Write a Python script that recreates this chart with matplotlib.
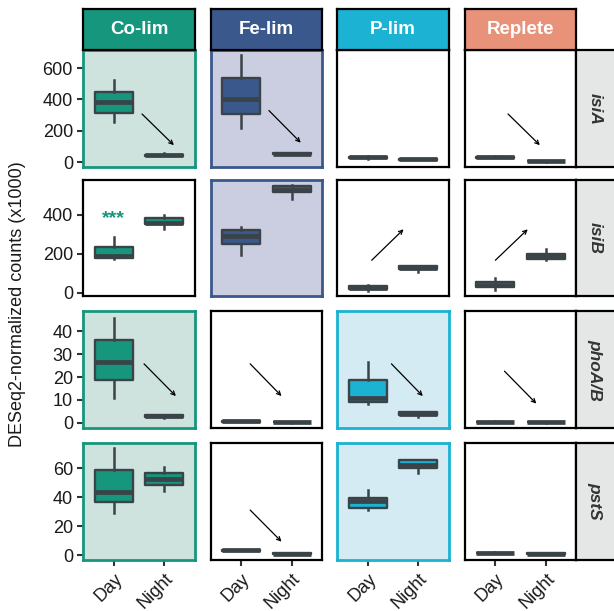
#!/usr/bin/env python3
# -*- coding: utf-8 -*-

import matplotlib
matplotlib.use('Agg')
import matplotlib.pyplot as plt

plt.rcParams['font.family'] = ['Liberation Sans', 'DejaVu Sans']

# Facets
conds = ['Co-lim', 'Fe-lim', 'P-lim', 'Replete']
genes = ['isiA', 'isiB', 'phoA/B', 'pstS']
times = ['Day', 'Night']

cond_colors = ['#16967D', '#3A588C', '#1BB2D3', '#E9927A']
cond_bg = ['#CFE3DE', '#CBCEE1', '#D5EBF3', '#FFFFFF']

# box stats (whislo, q1, med, q3, whishi) for Day, Night in each condition
isiA = [
    [(253, 315, 385, 450, 525), (36, 38, 43, 48, 58)],
    [(217, 307, 404, 537, 683), (50, 51, 54, 57, 58)],
    [(22, 29, 32, 35, 36), (14, 15, 17, 19, 20)],
    [(25, 29, 32, 35, 36), (3, 4, 5, 7, 8)],
]
isiB = [
    [(172, 178, 188, 232, 285), (325, 350, 357, 385, 398)],
    [(195, 248, 292, 320, 335), (482, 514, 525, 548, 550)],
    [(10, 18, 26, 34, 40), (108, 120, 126, 135, 137)],
    [(15, 28, 40, 55, 75), (168, 170, 188, 198, 225)],
]
phoAB = [
    [(11, 18.8, 26.5, 36.3, 46), (2.3, 2.5, 2.8, 3.2, 3.4)],
    [(0.4, 0.5, 0.6, 0.7, 0.8), (0.1, 0.2, 0.3, 0.4, 0.5)],
    [(8.2, 9.2, 11, 18.8, 26.5), (2.6, 3.3, 3.9, 4.5, 4.6)],
    [(0.2, 0.3, 0.4, 0.5, 0.6), (0.1, 0.2, 0.3, 0.4, 0.5)],
]
pstS = [
    [(29.5, 36.9, 43.8, 58.6, 73.8), (44.5, 48.7, 52.8, 57, 60.7)],
    [(3.0, 3.2, 3.5, 3.8, 4.0), (0.8, 1.0, 1.2, 1.4, 1.6)],
    [(31, 32.5, 37.8, 39.7, 45), (56.5, 60.2, 62, 65.7, 66)],
    [(1.4, 1.6, 1.8, 2.0, 2.2), (0.8, 1.0, 1.2, 1.4, 1.6)],
]
box_data = [isiA, isiB, phoAB, pstS]

row_ylim = [(-30, 713), (-20, 578), (-2.2, 48.8), (-2.8, 77.5)]
row_yticks = [[0, 200, 400, 600], [0, 200, 400], [0, 10, 20, 30, 40], [0, 20, 40, 60]]

# panels that are highlighted (gene -> conditions)
highlight = {'isiA': ['Co-lim', 'Fe-lim'], 'isiB': ['Fe-lim'],
             'phoA/B': ['Co-lim', 'P-lim'], 'pstS': ['Co-lim', 'P-lim']}

# trend arrows: gene, cond, x0, y0, x1, y1
arrows = [
    ('isiA', 'Co-lim', 1.56, 307, 2.19, 108),
    ('isiA', 'Fe-lim', 1.55, 329, 2.18, 124),
    ('isiA', 'Replete', 1.25, 307, 1.88, 108),
    ('isiB', 'P-lim', 1.08, 166, 1.71, 325),
    ('isiB', 'Replete', 1.00, 166, 1.64, 325),
    ('phoA/B', 'Co-lim', 1.60, 25.8, 2.23, 11.7),
    ('phoA/B', 'Fe-lim', 1.18, 25.8, 1.80, 11.7),
    ('phoA/B', 'P-lim', 1.47, 25.8, 2.09, 11.7),
    ('phoA/B', 'Replete', 1.18, 22.6, 1.81, 8.4),
    ('pstS', 'Fe-lim', 1.18, 31.3, 1.80, 9.5),
]

# significance marks: gene, cond, x, y, text
stars = [('isiB', 'Co-lim', 1, 380, '***')]

DARK = '#3A4347'
W, H = 614., 611.

fig = plt.figure(figsize=(W / 100, H / 100), dpi=100)


def px_axes(x, y, w, h):
    return fig.add_axes([x / W, 1 - (y + h) / H, w / W, h / H])


col_x = [83.3, 210.7, 337.3, 465]
row_y = [50.3, 180, 311.3, 443]
pw, ph = 111.3, 116.5

for i, gene in enumerate(genes):
    for j, cond in enumerate(conds):
        ax = px_axes(col_x[j], row_y[i], pw, ph)
        hl = cond in highlight[gene]
        ax.set_facecolor(cond_bg[j] if hl else 'white')
        for sp in ax.spines.values():
            sp.set_color(cond_colors[j] if hl else 'black')
            sp.set_linewidth(2.0 if hl else 1.6)
            sp.set_zorder(5)

        stats = []
        for k, t in enumerate(times):
            lo, q1, med, q3, hi = box_data[i][j][k]
            stats.append(dict(whislo=lo, q1=q1, med=med, q3=q3, whishi=hi, label=t))
        bp = ax.bxp(stats, positions=[1, 2], widths=0.75, patch_artist=True,
                    showfliers=False, showcaps=False,
                    boxprops=dict(facecolor=cond_colors[j], edgecolor=DARK, linewidth=1.7),
                    medianprops=dict(color=DARK, linewidth=3.4, solid_capstyle='butt'),
                    whiskerprops=dict(color=DARK, linewidth=1.8))
        for b in bp['boxes']:
            b.set_joinstyle('round')

        for g, c, x0, y0, x1, y1 in arrows:
            if g == gene and c == cond:
                ax.annotate('', xy=(x1, y1), xytext=(x0, y0),
                            arrowprops=dict(arrowstyle='->', color='black', lw=0.9,
                                            shrinkA=0, shrinkB=0, mutation_scale=7))
        for g, c, x, y, s in stars:
            if g == gene and c == cond:
                ax.text(x, y, s, color=cond_colors[j], fontsize=14, fontweight='bold',
                        ha='center', va='center')

        ax.set_xlim(0.4, 2.6)
        ax.set_ylim(*row_ylim[i])
        ax.tick_params(color='#333333', width=1.5, length=4.5, labelsize=13,
                       labelcolor='#1a1a1a', pad=3)
        if j == 0:
            ax.set_yticks(row_yticks[i])
        else:
            ax.set_yticks([])
        if i == len(genes) - 1:
            ax.set_xticks([1, 2])
            ax.set_xticklabels(times, rotation=45, ha='right', va='top',
                               rotation_mode='anchor')
        else:
            ax.set_xticks([])

        # condition strip on top
        if i == 0:
            sax = px_axes(col_x[j], 9.3, pw, row_y[0] - 9.3)
            sax.set_facecolor(cond_colors[j])
            sax.set_xticks([])
            sax.set_yticks([])
            for sp in sax.spines.values():
                sp.set_linewidth(1.6)
            sax.text(0.5, 0.5, cond, color='white', fontsize=13.5, fontweight='bold',
                     ha='center', va='center', transform=sax.transAxes)

    # gene strip on the right
    gax = px_axes(col_x[-1] + pw, row_y[i], 45, ph)
    gax.set_facecolor('#E5E6E6')
    gax.set_xticks([])
    gax.set_yticks([])
    for sp in gax.spines.values():
        sp.set_linewidth(1.6)
    gax.text(0.42, 0.5, gene, color='#333333', fontsize=12.5, fontweight='bold',
             fontstyle='italic', rotation=-90, ha='center', va='center',
             transform=gax.transAxes)

fig.text(18 / W, 1 - 304.5 / H, 'DESeq2-normalized counts (x1000)', rotation=90,
         ha='center', va='center', fontsize=13, color='#1a1a1a')

fig.savefig('out.png', dpi=100)
